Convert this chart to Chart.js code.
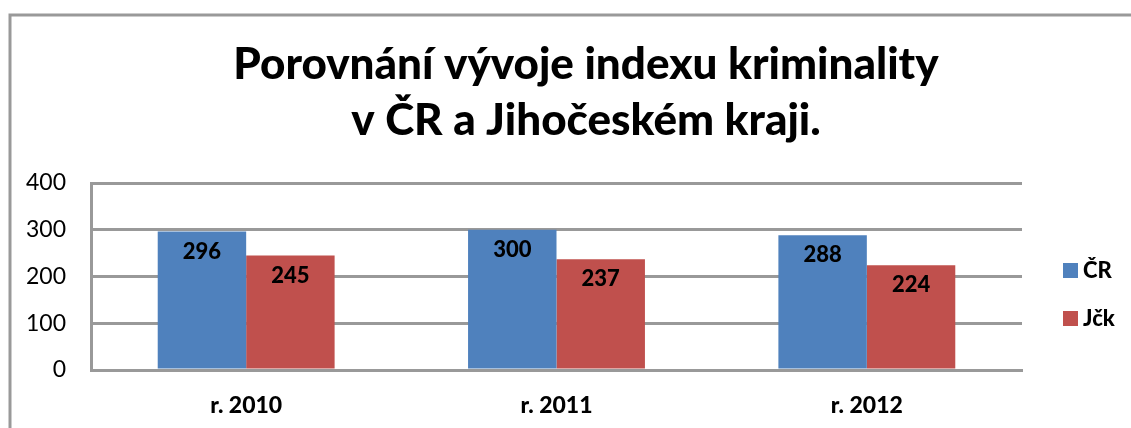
<!DOCTYPE html>
<html>
<head>
<meta charset="utf-8">
<script src="https://cdn.jsdelivr.net/npm/chart.js@4/dist/chart.umd.min.js"></script>
<style>
  html, body { margin: 0; padding: 0; background: #fff; }
  #wrap { width: 1131px; height: 428px; }
</style>
</head>
<body>
<div id="wrap"><canvas id="crime-chart"></canvas></div>
<script>
// Data
const years = ['r. 2010', 'r. 2011', 'r. 2012'];
const valuesCR = [296, 300, 288];
const valuesJck = [245, 237, 224];
const seriesNames = ['ČR', 'Jčk'];
const yTicks = [0, 100, 200, 300, 400];
const titleLines = ['Porovnání vývoje indexu kriminality', 'v ČR a Jihočeském kraji.'];

const FONT = 'Lato, "Open Sans", sans-serif';
const HEAVY = '900';

// grey frame round the whole chart, open to the right and bottom like the crop
const framePlugin = {
    id: 'frame',
    beforeDraw(chart) {
        const ctx = chart.ctx;
        ctx.save();
        ctx.fillStyle = '#fff';
        ctx.fillRect(0, 0, chart.width, chart.height);
        ctx.strokeStyle = '#999';
        ctx.lineWidth = 3;
        ctx.strokeRect(10, 15, chart.width + 20, chart.height + 20);
        ctx.restore();
    }
};

// two line title, centred a bit right of the plot like the original
const titlePlugin = {
    id: 'twoLineTitle',
    afterDraw(chart) {
        const ctx = chart.ctx;
        ctx.save();
        ctx.font = HEAVY + ' 44px ' + FONT;
        ctx.fillStyle = '#000';
        ctx.textAlign = 'center';
        ctx.textBaseline = 'alphabetic';
        titleLines.forEach((line, i) => ctx.fillText(line, 586, 79 + i * 56));
        ctx.restore();
    }
};

// value labels inside the bars, near the top
const barLabels = {
    id: 'barLabels',
    afterDatasetsDraw(chart) {
        const ctx = chart.ctx;
        ctx.save();
        ctx.font = HEAVY + ' 22px ' + FONT;
        ctx.fillStyle = '#000';
        ctx.textAlign = 'center';
        ctx.textBaseline = 'middle';
        chart.data.datasets.forEach((ds, i) => {
            chart.getDatasetMeta(i).data.forEach((bar, j) => {
                ctx.fillText(ds.data[j], bar.x, bar.y + 20);
            });
        });
        ctx.restore();
    }
};

// legend on the right, drawn from the datasets
const sideLegend = {
    id: 'sideLegend',
    afterDraw(chart) {
        const ctx = chart.ctx;
        ctx.save();
        ctx.font = HEAVY + ' 22px ' + FONT;
        ctx.textBaseline = 'middle';
        chart.data.datasets.forEach((ds, i) => {
            const y = 270 + i * 48;
            ctx.fillStyle = ds.backgroundColor;
            ctx.fillRect(1063, y - 7, 15, 15);
            ctx.fillStyle = '#000';
            ctx.fillText(ds.label, 1083, y + 1);
        });
        ctx.restore();
    }
};

new Chart(document.getElementById('crime-chart'), {
    type: 'bar',
    data: {
        labels: years,
        datasets: [
            { label: seriesNames[0], data: valuesCR, backgroundColor: '#4F81BD' },
            { label: seriesNames[1], data: valuesJck, backgroundColor: '#C0504D' }
        ]
    },
    options: {
        responsive: true,
        maintainAspectRatio: false,
        animation: false,
        layout: { padding: { left: 24, right: 109, top: 183, bottom: 8 } },
        datasets: { bar: { barPercentage: 1, categoryPercentage: 0.57 } },
        plugins: {
            legend: { display: false },
            tooltip: { enabled: false },
            title: { display: false }
        },
        scales: {
            x: {
                afterFit(scale) { scale.height = 50; },
                grid: { display: false, drawTicks: false },
                border: { color: '#999', width: 3 },
                ticks: { color: '#000', padding: 22, font: { family: FONT, size: 23, weight: HEAVY } }
            },
            y: {
                min: 0,
                max: 400,
                afterBuildTicks(scale) { scale.ticks = yTicks.map(v => ({ value: v })); },
                afterFit(scale) { scale.width = 67; },
                grid: { color: '#999', lineWidth: 3, drawTicks: false },
                border: { color: '#999', width: 3 },
                ticks: { color: '#000', padding: 25, font: { family: FONT, size: 23 } }
            }
        }
    },
    plugins: [framePlugin, barLabels, sideLegend, titlePlugin]
});
</script>
</body>
</html>
